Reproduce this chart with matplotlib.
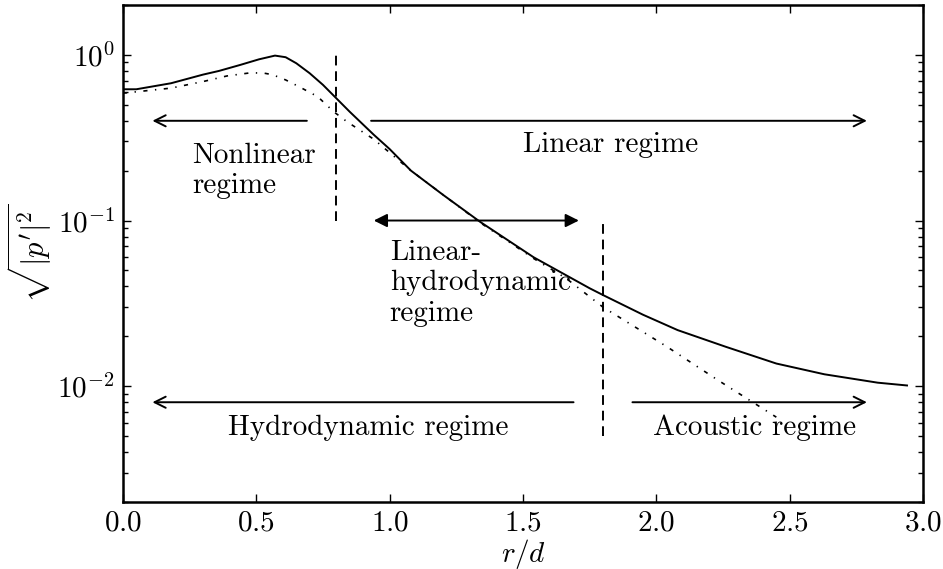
import numpy as np
import matplotlib
matplotlib.use('Agg')
import matplotlib.pyplot as plt

plt.rcParams['font.family'] = ['cmr10', 'DejaVu Serif']
plt.rcParams['mathtext.fontset'] = 'cm'
plt.rcParams['axes.formatter.use_mathtext'] = True
plt.rcParams['axes.unicode_minus'] = True

# full (solid) profile
r_full = [0.0, 0.05, 0.18, 0.3, 0.36, 0.44, 0.51, 0.57, 0.61, 0.65, 0.7, 0.75,
          0.8, 0.85, 0.94, 1.0, 1.08, 1.2, 1.34, 1.54, 1.75, 1.8, 1.95, 2.08,
          2.26, 2.45, 2.63, 2.83, 2.94]
p_full = [0.62, 0.62, 0.674, 0.76, 0.80, 0.87, 0.94, 0.99, 0.968, 0.89,
          0.775, 0.659, 0.547, 0.454, 0.33, 0.27, 0.20, 0.143, 0.098, 0.060,
          0.039, 0.0355, 0.027, 0.0218, 0.0173, 0.0137, 0.0118, 0.0105, 0.0101]

# linear-hydrodynamic (dash-dot) profile
r_lin = [0.0, 0.18, 0.3, 0.39, 0.48, 0.53, 0.56, 0.61, 0.66, 0.73, 0.79, 0.84,
         0.94, 1.08, 1.34, 1.54, 1.66, 1.8, 2.04, 2.23, 2.45]
p_lin = [0.587, 0.63, 0.69, 0.746, 0.78, 0.775, 0.76, 0.706, 0.643, 0.56,
         0.454, 0.395, 0.31, 0.20, 0.097, 0.059, 0.045, 0.030, 0.0173, 0.0109,
         0.0065]

# boundaries between regimes
bound_x = [0.8, 1.8]
bound_lo = [0.1, 0.005]
bound_hi = [1.0, 0.1]

# arrows: (tail, tip, style)
arrows = [
    ((0.7, 0.4), (0.1, 0.4), '->'),
    ((0.92, 0.4), (2.8, 0.4), '->'),
    ((0.93, 0.1), (1.72, 0.1), '<|-|>'),
    ((1.7, 0.008), (0.1, 0.008), '->'),
    ((1.9, 0.008), (2.8, 0.008), '->'),
]

labels = [
    (0.26, 0.2, 'Nonlinear\nregime', 'left'),
    (1.83, 0.285, 'Linear regime', 'center'),
    (1.0, 0.042, 'Linear-\nhydrodynamic\nregime', 'left'),
    (0.92, 0.0056, 'Hydrodynamic regime', 'center'),
    (2.37, 0.0056, 'Acoustic regime', 'center'),
]

fig = plt.figure(figsize=(9.43, 5.69), dpi=100)
ax = fig.add_axes([0.1304, 0.1178, 0.8484, 0.8734])

ax.plot(r_full, p_full, 'k-', lw=1.4)
ax.plot(r_lin, p_lin, color='k', lw=1.2, linestyle=(0, (2.5, 4.5, 0.8, 4.5)))

for x, lo, hi in zip(bound_x, bound_lo, bound_hi):
    ax.plot([x, x], [lo, hi], color='k', lw=1.4, linestyle=(0, (5, 3)))

for tail, tip, style in arrows:
    ax.annotate('', xy=tip, xytext=tail, size=20,
                arrowprops=dict(arrowstyle=style, color='k', lw=1.4))

for x, y, s, ha in labels:
    ax.text(x, y, s, ha=ha, va='center', multialignment='left', fontsize=21,
            linespacing=1.2)

ax.set_yscale('log')
ax.set_xlim(0, 3)
ax.set_ylim(0.002, 2)
ax.set_xticks([0.0, 0.5, 1.0, 1.5, 2.0, 2.5, 3.0])

ax.set_xlabel(r'$r/d$', fontsize=21, labelpad=0)
ax.set_ylabel(r'$\sqrt{|p^\prime|^2}$', fontsize=22, labelpad=2)

ax.tick_params(which='both', direction='in', top=True, right=True, labelsize=21)
ax.tick_params(which='major', length=6, width=1)
ax.tick_params(which='minor', length=3.5, width=1)
ax.tick_params(axis='x', pad=6)
ax.tick_params(axis='y', pad=6)
for sp in ax.spines.values():
    sp.set_linewidth(1.8)

fig.savefig('out.png', dpi=100)
